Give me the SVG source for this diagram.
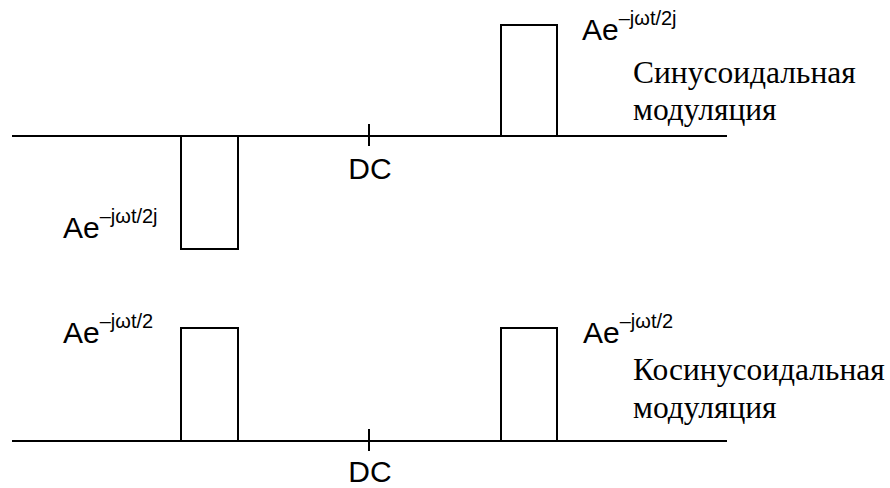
<svg xmlns="http://www.w3.org/2000/svg" width="890" height="488" viewBox="0 0 890 488">
<style>
.ln{stroke:#000;stroke-width:2;fill:none}
.sf{font-family:"Liberation Sans",Arial,sans-serif;font-size:30px;fill:#000}
.sup{font-size:20px}
.rs{font-family:"Liberation Serif","Times New Roman","DejaVu Serif",serif;font-size:31.5px;fill:#000}
</style>
<g id="connectors">
<line class="ln" x1="12" y1="136" x2="727" y2="136"/>
<line class="ln" x1="369" y1="124" x2="369" y2="146"/>
<line class="ln" x1="12" y1="441" x2="727" y2="441"/>
<line class="ln" x1="369" y1="429" x2="369" y2="451"/>
</g>
<g id="top-left-pulse">
<polyline class="ln" points="181,136 181,249 238,249 238,136"/>
<text class="sf" x="63" y="238">Ae<tspan class="sup" dy="-15">–jωt/2j</tspan></text>
</g>
<g id="top-right-pulse">
<polyline class="ln" points="501,136 501,25 557,25 557,136"/>
<text class="sf" x="582" y="40">Ae<tspan class="sup" dy="-15">–jωt/2j</tspan></text>
</g>
<g id="top-dc">
<text class="sf" x="370" y="179" text-anchor="middle">DC</text>
</g>
<g id="top-caption">
<text class="rs" x="633" y="83">Синусоидальная</text>
<text class="rs" x="633" y="120">модуляция</text>
</g>
<g id="bottom-left-pulse">
<polyline class="ln" points="181,441 181,328 238,328 238,441"/>
<text class="sf" x="63" y="343">Ae<tspan class="sup" dy="-15">–jωt/2</tspan></text>
</g>
<g id="bottom-right-pulse">
<polyline class="ln" points="501,441 501,328 557,328 557,441"/>
<text class="sf" x="583" y="343">Ae<tspan class="sup" dy="-15">–jωt/2</tspan></text>
</g>
<g id="bottom-dc">
<text class="sf" x="370" y="482" text-anchor="middle">DC</text>
</g>
<g id="bottom-caption">
<text class="rs" x="633" y="380">Косинусоидальная</text>
<text class="rs" x="633" y="418">модуляция</text>
</g>
</svg>
